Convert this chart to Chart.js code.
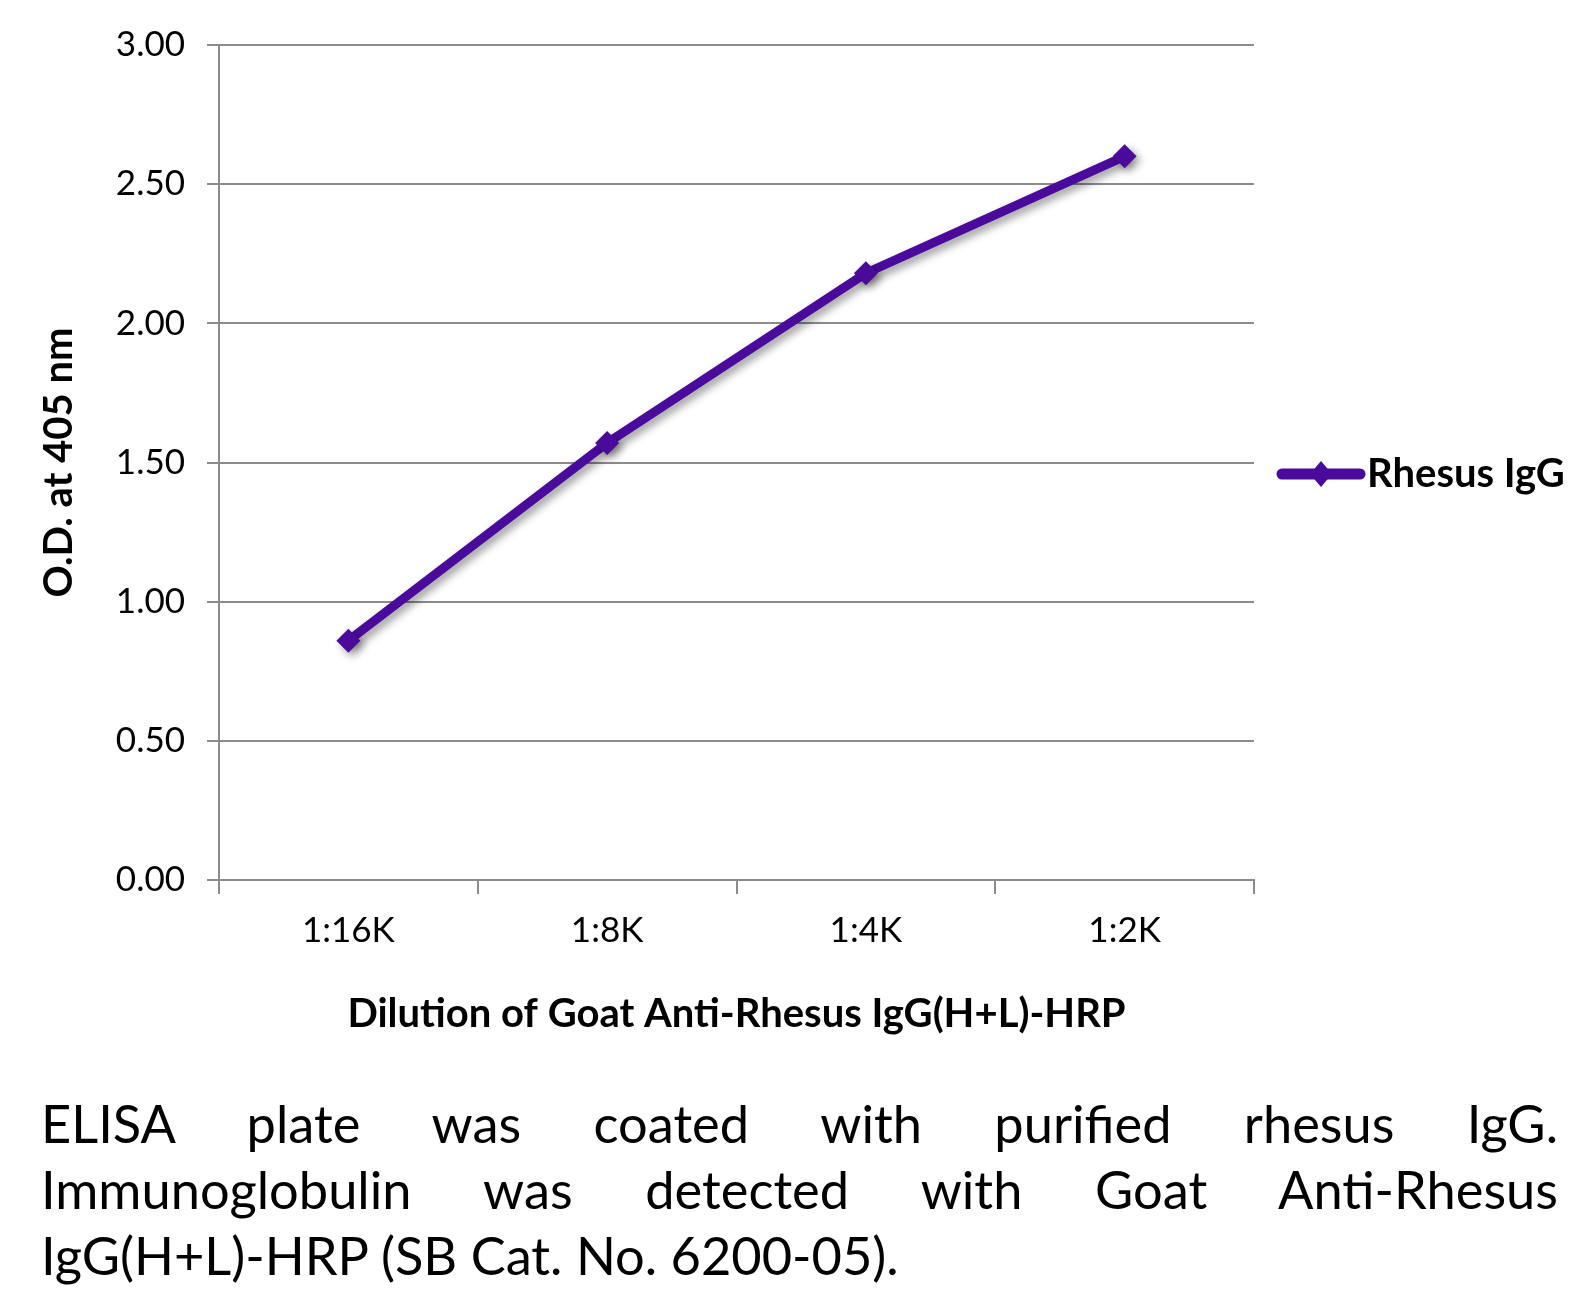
<!DOCTYPE html>
<html>
<head>
<meta charset="utf-8">
<script src="https://cdn.jsdelivr.net/npm/chart.js@4.4.1/dist/chart.umd.min.js"></script>
<style>
  html, body { margin: 0; padding: 0; background: #fff; }
  #wrap { position: relative; width: 1590px; height: 1306px; overflow: hidden; }
  #chartBox { position: absolute; left: 0; top: 0; width: 1590px; height: 1060px; }
  #caption { position: absolute; left: 41px; top: 1090px; width: 1517px; font-family: Lato, sans-serif; color: #000; line-height: 66px; }
  .just { text-align: justify; text-align-last: justify; }
</style>
</head>
<body>
<div id="wrap">
  <div id="chartBox"><canvas id="chart"></canvas></div>
  <div id="caption">
    <div class="just">ELISA plate was coated with purified rhesus IgG.</div>
    <div class="just">Immunoglobulin was detected with Goat Anti-Rhesus</div>
    <div id="lastLine">IgG(H+L)-HRP (SB Cat. No. 6200-05).</div>
  </div>
</div>
<script>
// values
const dilutions = ["1:16K", "1:8K", "1:4K", "1:2K"];
const odValues = [0.86, 1.57, 2.18, 2.60];
const seriesName = "Rhesus IgG";
const yMin = 0, yMax = 3, yStep = 0.5;

const purple = "#4a0a9c";
const gridGrey = "#8c8c8c";

// caption font size: fit the last line to its width in the picture
(function(){
    const c = document.createElement("canvas").getContext("2d");
    c.font = "100px Lato";
    const w = c.measureText(document.getElementById("lastLine").textContent).width;
    document.getElementById("caption").style.fontSize = (100 * 859 / w).toFixed(1) + "px";
})();

// soft drop shadow under the line + markers
const shadowPlugin = {
    id: "lineShadow",
    beforeDatasetsDraw(chart){
        const c = chart.ctx;
        c.save();
        c.shadowColor = "rgba(0,0,0,0.4)";
        c.shadowBlur = 8;
        c.shadowOffsetX = 4;
        c.shadowOffsetY = 4;
    },
    afterDatasetsDraw(chart){
        chart.ctx.restore();
    }
};

// legend on the right: line with a diamond in the middle, then the name
const sideLegend = {
    id: "sideLegend",
    afterDraw(chart){
        const c = chart.ctx;
        const ds = chart.data.datasets[0];
        const x0 = chart.chartArea.right + 23;
        const x1 = x0 + 88;
        const y = 474;
        c.save();
        c.strokeStyle = ds.borderColor;
        c.lineWidth = 11;
        c.lineCap = "round";
        c.beginPath();
        c.moveTo(x0 + 5, y);
        c.lineTo(x1 - 5, y);
        c.stroke();
        const mx = (x0 + x1) / 2;
        c.fillStyle = ds.borderColor;
        c.beginPath();
        c.moveTo(mx, y - 13);
        c.lineTo(mx + 11, y);
        c.lineTo(mx, y + 13);
        c.lineTo(mx - 11, y);
        c.closePath();
        c.fill();
        c.fillStyle = "#000";
        c.font = "bold 40px Lato";
        c.textBaseline = "middle";
        c.fillText(ds.label, x1 + 2, y);
        c.restore();
    }
};

const ctx = document.getElementById("chart").getContext("2d");
new Chart(ctx, {
    type: "line",
    data: {
        labels: dilutions,
        datasets: [{
            label: seriesName,
            data: odValues,
            borderColor: purple,
            backgroundColor: purple,
            borderWidth: 9,
            pointStyle: "rectRot",
            pointRadius: 12,
            pointBorderWidth: 0,
            tension: 0
        }]
    },
    options: {
        responsive: true,
        maintainAspectRatio: false,
        animation: false,
        layout: { padding: { left: 0, right: 336, top: 45, bottom: 0 } },
        scales: {
            x: {
                type: "category",
                offset: true,
                grid: { offset: true, drawOnChartArea: false, drawTicks: true, tickLength: 14, color: gridGrey, lineWidth: 2 },
                border: { display: true, color: gridGrey, width: 2 },
                ticks: { color: "#000", font: { family: "Lato", size: 35 }, padding: 16 },
                title: {
                    display: true,
                    text: "Dilution of Goat Anti-Rhesus IgG(H+L)-HRP",
                    color: "#000",
                    font: { family: "Lato", size: 40, weight: "bold" },
                    padding: { top: 0, bottom: 22 }
                },
                afterFit(scale){ scale.height = 180; }
            },
            y: {
                min: yMin,
                max: yMax,
                grid: { color: gridGrey, lineWidth: 2, drawTicks: true, tickLength: 12 },
                border: { display: true, color: gridGrey, width: 2 },
                ticks: {
                    stepSize: yStep,
                    color: "#000",
                    font: { family: "Lato", size: 35 },
                    padding: 22,
                    callback: (v) => Number(v).toFixed(2)
                },
                title: {
                    display: true,
                    text: "O.D. at 405 nm",
                    color: "#000",
                    font: { family: "Lato", size: 40, weight: "bold" },
                    padding: { top: 35, bottom: 0 }
                },
                afterFit(scale){ scale.width = 219; }
            }
        },
        plugins: {
            legend: { display: false },
            tooltip: { enabled: false }
        }
    },
    plugins: [shadowPlugin, sideLegend]
});
</script>
</body>
</html>
